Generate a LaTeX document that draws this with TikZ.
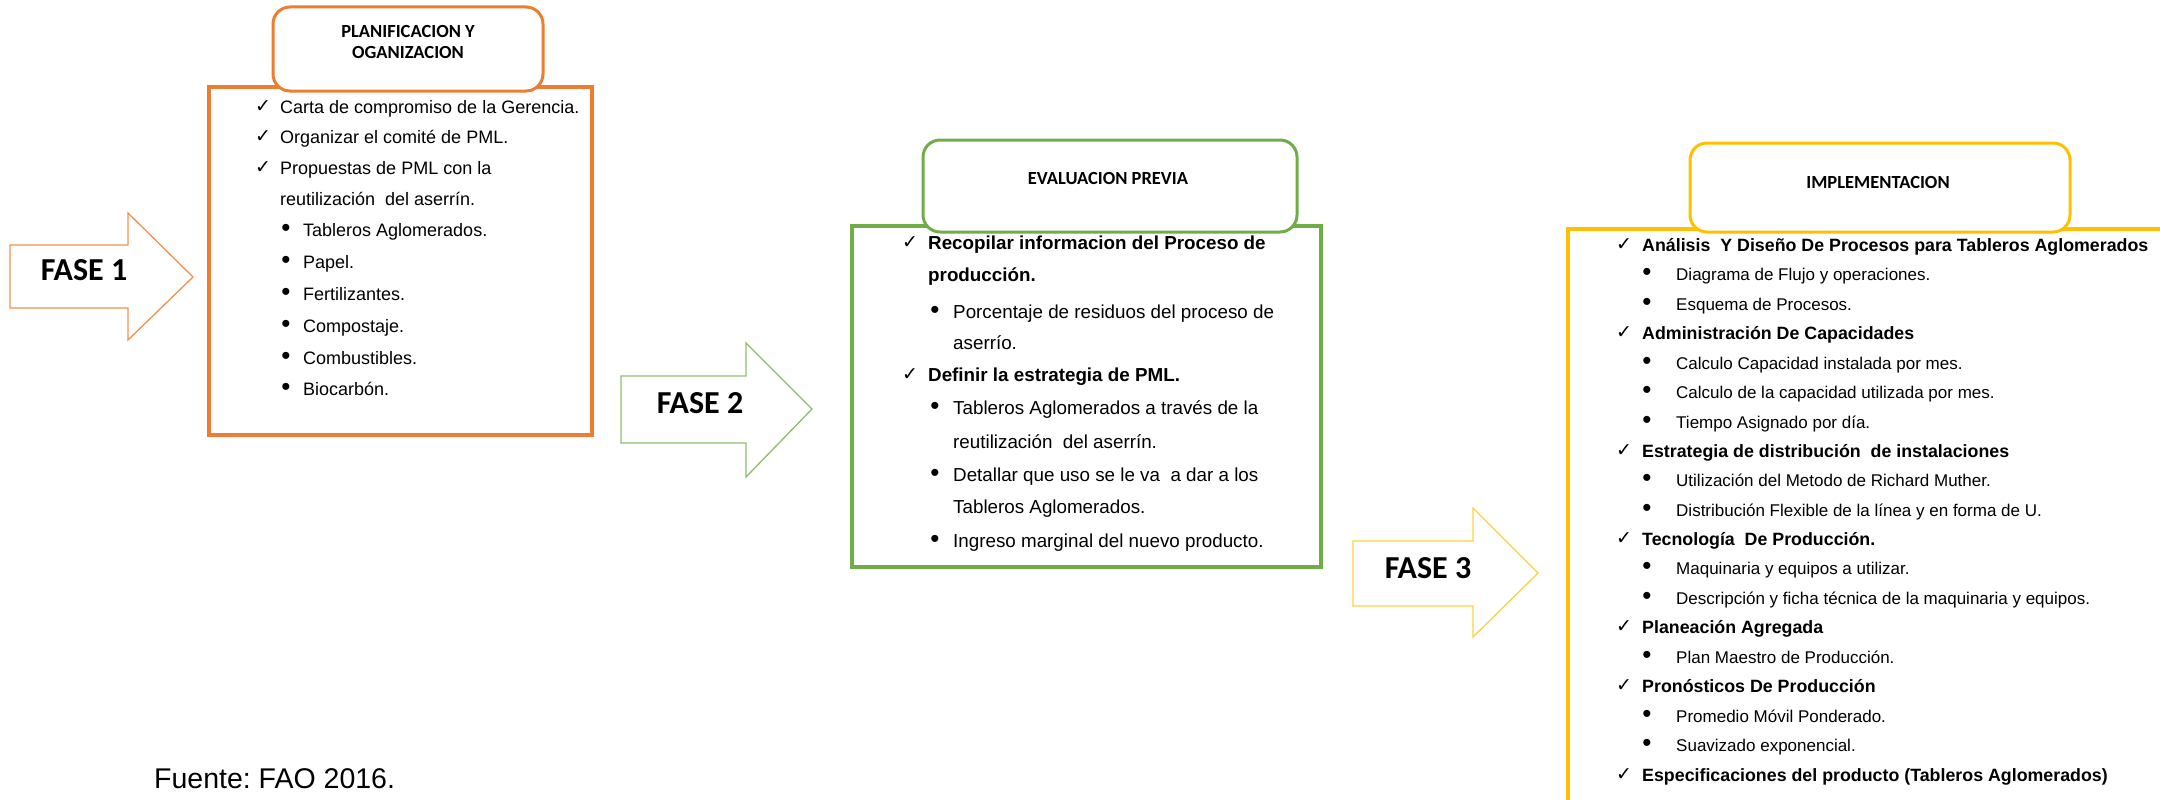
\documentclass[tikz,border=0pt]{standalone}
\usepackage{fontspec}
\setmainfont{Liberation Sans}
\newfontfamily\calib{Carlito}
\newfontfamily\dejavu{DejaVu Sans}
\definecolor{orng}{HTML}{ED7D31}
\definecolor{grn}{HTML}{70AD47}
\definecolor{ylw}{HTML}{FFC000}
\frenchspacing
\tikzset{
 bx/.style={line width=3.5pt},
 ttl/.style={line width=3pt, rounded corners=17pt, fill=white},
 barrow/.style={line width=1.3pt, line join=miter},
 fase/.style={font=\calib\bfseries\fontsize{32}{32}\selectfont, inner sep=0pt},
 ttxt/.style={font=\calib\bfseries\fontsize{18.5}{21}\selectfont, align=center, inner sep=0pt},
 lst/.style={anchor=base west, inner sep=0pt, yshift=-6.5pt, font=\fontsize{18}{18}\selectfont},
 glst/.style={anchor=base west, inner sep=0pt, yshift=-6.7pt, font=\fontsize{18.8}{18.8}\selectfont},
 glstb/.style={glst, font=\bfseries\fontsize{18.8}{18.8}\selectfont},
 ylst/.style={anchor=base west, inner sep=0pt, yshift=-6pt, font=\fontsize{17}{17}\selectfont},
 ylstb/.style={ylst, font=\bfseries\fontsize{17.8}{17.8}\selectfont},
 chk/.style={inner sep=0pt, font=\dejavu\fontsize{19}{19}\selectfont},
 bul/.style={inner sep=0pt, font=\fontsize{26}{26}\selectfont},
}
\begin{document}
\begin{tikzpicture}[x=1pt,y=-1pt]
\useasboundingbox (0,0) rectangle (2160,800);

% ---------------- FASE 1 (orange)
\draw[barrow, orng!85] (10,245) -- (128,245) -- (128,213) -- (193,277) -- (128,340) -- (128,308) -- (10,308) -- cycle;
\node[fase] (f1) at (84,270) {FASE 1};
\draw[bx, draw=orng] (209,87) rectangle (592,435);
\draw[ttl, draw=orng] (273,7) rectangle (543,91);
\node[ttxt] (t1) at (408,42) {PLANIFICACION Y\\OGANIZACION};

\node[chk] (o1c) at (263,107) {✓};
\node[lst] (o1) at (280,107) {Carta de compromiso de la Gerencia.};
\node[chk] (o2c) at (263,137) {✓};
\node[lst] (o2) at (280,137) {Organizar el comité de PML.};
\node[chk] (o3c) at (263,168) {✓};
\node[lst] (o3) at (280,168) {Propuestas de PML con la};
\node[lst] (o3b) at (280,199) {reutilización\ \ del aserrín.};
\node[bul] (o4b) at (286,230) {•};
\node[lst] (o4) at (303,230) {Tableros Aglomerados.};
\node[bul] (o5b) at (286,262) {•};
\node[lst] (o5) at (303,262) {Papel.};
\node[bul] (o6b) at (286,294) {•};
\node[lst] (o6) at (303,294) {Fertilizantes.};
\node[bul] (o7b) at (286,326) {•};
\node[lst] (o7) at (303,326) {Compostaje.};
\node[bul] (o8b) at (286,358) {•};
\node[lst] (o8) at (303,358) {Combustibles.};
\node[bul] (o9b) at (286,389) {•};
\node[lst] (o9) at (303,389) {Biocarbón.};

% ---------------- FASE 2 (green)
\draw[barrow, grn!80] (621,376) -- (746,376) -- (746,343) -- (812,409) -- (746,477) -- (746,443) -- (621,443) -- cycle;
\node[fase] (f2) at (700,403) {FASE 2};
\draw[bx, draw=grn] (852,226) rectangle (1321,567);
\draw[ttl, draw=grn] (923,140) rectangle (1297,232);
\node[ttxt] (t2) at (1108,179) {EVALUACION PREVIA};

\node[chk] (g1c) at (910,243) {✓};
\node[glstb] (g1) at (928,243) {Recopilar informacion del Proceso de};
\node[glstb] (g1b) at (928,275) {producción.};
\node[bul] (g2b) at (935,312) {•};
\node[glst] (g2) at (953,312) {Porcentaje de residuos del proceso de};
\node[glst] (g2c) at (953,343) {aserrío.};
\node[chk] (g3c) at (910,375) {✓};
\node[glstb] (g3) at (928,375) {Definir la estrategia de PML.};
\node[bul] (g4b) at (935,408) {•};
\node[glst] (g4) at (953,408) {Tableros Aglomerados a través de la};
\node[glst] (g4c) at (953,442) {reutilización\ \ del aserrín.};
\node[bul] (g5b) at (935,475) {•};
\node[glst] (g5) at (953,475) {Detallar que uso se le va\ \ a dar a los};
\node[glst] (g5c) at (953,507) {Tableros Aglomerados.};
\node[bul] (g6b) at (935,541) {•};
\node[glst] (g6) at (953,541) {Ingreso marginal del nuevo producto.};

% ---------------- FASE 3 (yellow)
\draw[barrow, ylw!75] (1353,541) -- (1473,541) -- (1473,508) -- (1538,573) -- (1473,637) -- (1473,606) -- (1353,606) -- cycle;
\node[fase] (f3) at (1428,568) {FASE 3};
\draw[bx, draw=ylw] (2160,229) -- (1568,229) -- (1568,800);
\draw[ttl, draw=ylw] (1690,143) rectangle (2070,232);
\node[ttxt] (t3) at (1878,182) {IMPLEMENTACION};

\node[chk] (y1c) at (1624,245) {✓};
\node[ylstb] (y1) at (1642,245) {Análisis\ \ Y Diseño De Procesos para Tableros Aglomerados};
\node[bul] (y2b) at (1647,274) {•};
\node[ylst] (y2) at (1676,274) {Diagrama de Flujo y operaciones.};
\node[bul] (y3b) at (1647,304) {•};
\node[ylst] (y3) at (1676,304) {Esquema de Procesos.};
\node[chk] (y4c) at (1624,333) {✓};
\node[ylstb] (y4) at (1642,333) {Administración De Capacidades};
\node[bul] (y5b) at (1647,363) {•};
\node[ylst] (y5) at (1676,363) {Calculo Capacidad instalada por mes.};
\node[bul] (y6b) at (1647,392) {•};
\node[ylst] (y6) at (1676,392) {Calculo de la capacidad utilizada por mes.};
\node[bul] (y7b) at (1647,422) {•};
\node[ylst] (y7) at (1676,422) {Tiempo Asignado por día.};
\node[chk] (y8c) at (1624,451) {✓};
\node[ylstb] (y8) at (1642,451) {Estrategia de distribución\ \ de instalaciones};
\node[bul] (y9b) at (1647,480) {•};
\node[ylst] (y9) at (1676,480) {Utilización del Metodo de Richard Muther.};
\node[bul] (y10b) at (1647,510) {•};
\node[ylst] (y10) at (1676,510) {Distribución Flexible de la línea y en forma de U.};
\node[chk] (y11c) at (1624,539) {✓};
\node[ylstb] (y11) at (1642,539) {Tecnología\ \ De Producción.};
\node[bul] (y12b) at (1647,568) {•};
\node[ylst] (y12) at (1676,568) {Maquinaria y equipos a utilizar.};
\node[bul] (y13b) at (1647,598) {•};
\node[ylst] (y13) at (1676,598) {Descripción y ficha técnica de la maquinaria y equipos.};
\node[chk] (y14c) at (1624,627) {✓};
\node[ylstb] (y14) at (1642,627) {Planeación Agregada};
\node[bul] (y15b) at (1647,657) {•};
\node[ylst] (y15) at (1676,657) {Plan Maestro de Producción.};
\node[chk] (y16c) at (1624,686) {✓};
\node[ylstb] (y16) at (1642,686) {Pronósticos De Producción};
\node[bul] (y17b) at (1647,716) {•};
\node[ylst] (y17) at (1676,716) {Promedio Móvil Ponderado.};
\node[bul] (y18b) at (1647,745) {•};
\node[ylst] (y18) at (1676,745) {Suavizado exponencial.};
\node[chk] (y19c) at (1624,775) {✓};
\node[ylstb] (y19) at (1642,775) {Especificaciones del producto (Tableros Aglomerados)};

% ---------------- source
\node[anchor=base west, inner sep=0pt, font=\fontsize{28.5}{28.5}\selectfont] (src) at (154,788) {Fuente: FAO 2016.};
\end{tikzpicture}
\end{document}
